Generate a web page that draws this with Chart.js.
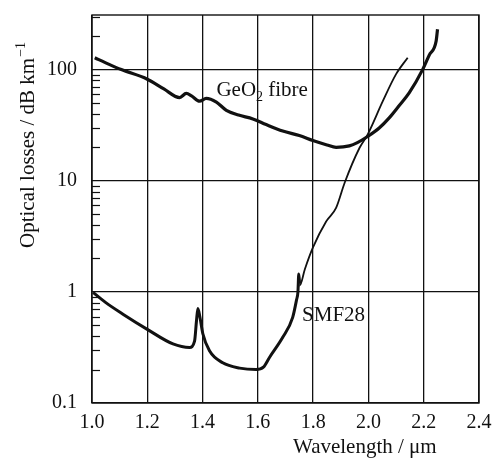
<!DOCTYPE html>
<html>
<head>
<meta charset="utf-8">
<script src="https://cdn.jsdelivr.net/npm/chart.js@4/dist/chart.umd.min.js"></script>
<style>
  html, body { margin: 0; padding: 0; background: #fff; }
  #wrap { width: 494px; height: 458px; }
</style>
</head>
<body>
<div id="wrap"><canvas id="lossChart"></canvas></div>
<script>
// wavelength (um) and optical loss (dB/km)
const geoWl   = [1.01, 1.06, 1.106, 1.2, 1.26, 1.317, 1.341, 1.36, 1.389, 1.413, 1.45, 1.486, 1.53, 1.582, 1.63, 1.69, 1.75, 1.799, 1.85, 1.883, 1.931, 1.96, 1.997, 2.04, 2.076, 2.11, 2.148, 2.196, 2.22, 2.245, 2.25];
const geoLoss = [128, 112, 100, 82, 67, 56, 61, 58, 52, 55, 51, 43, 39, 36, 32, 28, 25.5, 23, 21, 20, 20.6, 22, 25, 30, 37, 47, 62, 100, 135, 181, 231];

const smfWl   = [1.004, 1.05, 1.112, 1.2, 1.293, 1.353, 1.371, 1.378, 1.383, 1.39, 1.401, 1.425, 1.473, 1.534, 1.594, 1.62, 1.642, 1.69, 1.726, 1.74, 1.745, 1.748, 1.752, 1.77, 1.799, 1.847, 1.883, 1.914, 1.968, 1.997, 2.052, 2.1, 2.142];
const smfLoss = [0.99, 0.8, 0.63, 0.46, 0.34, 0.316, 0.36, 0.55, 0.71, 0.6, 0.42, 0.295, 0.23, 0.206, 0.2, 0.21, 0.257, 0.39, 0.59, 0.85, 1.0, 1.45, 1.15, 1.6, 2.5, 4.3, 5.7, 9.6, 19.8, 26, 52, 91, 128];
const smfThickUntil = 1.75; // drawn heavier below this wavelength

const xTicks = [1.0, 1.2, 1.4, 1.6, 1.8, 2.0, 2.2, 2.4];
const yTicks = [0.1, 1, 10, 100];
const yTickLabels = ['0.1', '1', '10', '100'];

const FONT = "'Liberation Serif', 'Times New Roman', serif";
const INK = '#111';

function toPoints(xs, ys) {
    return xs.map((x, i) => ({ x: x, y: ys[i] }));
}

// frame, minor ticks inside the left axis, and the text labels
const decorPlugin = {
    id: 'decor',
    afterDraw(chart) {
        const ctx = chart.ctx;
        const area = chart.chartArea;
        const xs = chart.scales.x;
        const ys = chart.scales.y;
        ctx.save();
        ctx.strokeStyle = INK;
        ctx.lineWidth = 1.4;
        ctx.strokeRect(area.left, area.top, area.right - area.left, area.bottom - area.top);

        ctx.lineWidth = 1.2;
        [0.1, 1, 10, 100].forEach(d => {
            for (let m = 2; m <= 9; m++) {
                const v = d * m;
                if (v > ys.max) continue;
                const py = Math.round(ys.getPixelForValue(v)) + 0.5;
                ctx.beginPath();
                ctx.moveTo(area.left, py);
                ctx.lineTo(area.left + 8, py);
                ctx.stroke();
            }
        });

        ctx.fillStyle = INK;
        ctx.textBaseline = 'alphabetic';
        ctx.textAlign = 'left';

        // GeO2 fibre label
        ctx.font = '21px ' + FONT;
        let lx = xs.getPixelForValue(1.45);
        const ly = ys.getPixelForValue(58);
        ctx.fillText('GeO', lx, ly);
        lx += ctx.measureText('GeO').width;
        ctx.font = '14px ' + FONT;
        ctx.fillText('2', lx, ly + 5);
        lx += ctx.measureText('2').width;
        ctx.font = '21px ' + FONT;
        ctx.fillText(' fibre', lx, ly);

        // SMF28 label
        ctx.fillText('SMF28', xs.getPixelForValue(1.76), ys.getPixelForValue(0.55));

        // x axis title
        ctx.fillText('Wavelength / \u03bcm', 293, 453);

        // y axis title, rotated
        ctx.translate(34, 248);
        ctx.rotate(-Math.PI / 2);
        const main = 'Optical losses / dB km';
        ctx.fillText(main, 0, 0);
        const w = ctx.measureText(main).width;
        ctx.font = '14px ' + FONT;
        ctx.fillText('\u22121', w + 1, -9);
        ctx.restore();
    }
};

document.addEventListener('DOMContentLoaded', function() {
    const ctx = document.getElementById('lossChart').getContext('2d');
    new Chart(ctx, {
        type: 'scatter',
        data: {
            datasets: [
                {
                    label: 'GeO2 fibre',
                    data: toPoints(geoWl, geoLoss),
                    showLine: true,
                    borderColor: INK,
                    borderWidth: 3.2,
                    pointRadius: 0,
                    cubicInterpolationMode: 'monotone'
                },
                {
                    label: 'SMF28',
                    data: toPoints(smfWl, smfLoss),
                    showLine: true,
                    borderColor: INK,
                    borderWidth: 3,
                    pointRadius: 0,
                    cubicInterpolationMode: 'monotone',
                    segment: {
                        borderWidth: c => (c.p0.parsed.x < smfThickUntil ? 3 : 1.8)
                    }
                }
            ]
        },
        options: {
            responsive: true,
            maintainAspectRatio: false,
            animation: false,
            layout: { padding: { top: 15, right: 15, left: 0, bottom: 0 } },
            plugins: {
                legend: { display: false },
                tooltip: { enabled: false }
            },
            scales: {
                x: {
                    type: 'linear',
                    min: 1.0,
                    max: 2.4,
                    afterBuildTicks: s => { s.ticks = xTicks.map(v => ({ value: v })); },
                    afterFit: s => {
                        s.height = 55;
                        s.paddingLeft = 0;
                        s.paddingRight = 0;
                    },
                    ticks: {
                        callback: v => v.toFixed(1),
                        color: INK,
                        font: { family: FONT, size: 20 },
                        padding: 8,
                        maxRotation: 0
                    },
                    grid: { color: INK, lineWidth: 1.3, drawTicks: false },
                    border: { display: false }
                },
                y: {
                    type: 'logarithmic',
                    min: 0.1,
                    max: 310,
                    afterBuildTicks: s => { s.ticks = yTicks.map(v => ({ value: v })); },
                    afterFit: s => {
                        s.width = 92;
                        s.paddingTop = 0;
                        s.paddingBottom = 0;
                    },
                    ticks: {
                        callback: v => {
                            const i = yTicks.indexOf(v);
                            return i >= 0 ? yTickLabels[i] : '';
                        },
                        color: INK,
                        font: { family: FONT, size: 20 },
                        padding: 15
                    },
                    grid: { color: INK, lineWidth: 1.3, drawTicks: false },
                    border: { display: false }
                }
            }
        },
        plugins: [decorPlugin]
    });
});
</script>
</body>
</html>
